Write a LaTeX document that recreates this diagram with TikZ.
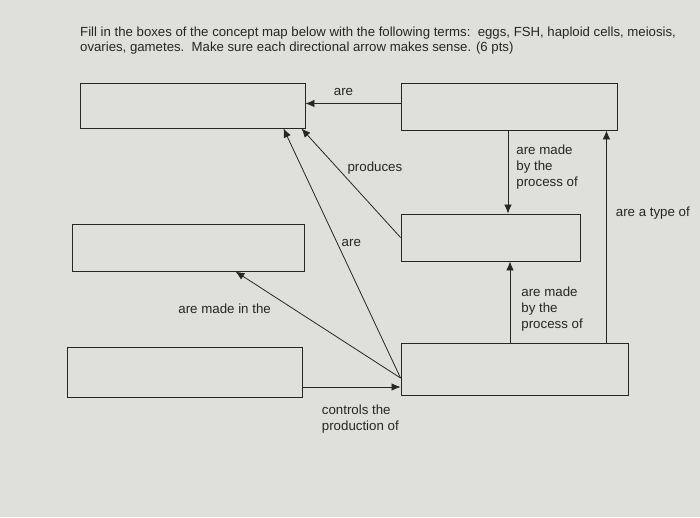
\documentclass[tikz,border=0pt]{standalone}
\usepackage{fontspec}
\setmainfont{Liberation Sans}
\usetikzlibrary{arrows.meta}
\definecolor{paper}{RGB}{223,223,220}
\definecolor{ink}{RGB}{38,38,38}
\tikzset{
  box/.style ={rectangle, draw=ink, line width=0.9pt},
  arr/.style ={-{Latex[length=9pt, width=7.5pt]}, draw=ink, line width=0.8pt},
  lbl/.style ={font=\fontsize{13.3}{16}\selectfont, text=ink, align=left, inner sep=2pt},
  prompt/.style ={font=\fontsize{13.2}{15}\selectfont, text=ink, align=left, inner sep=0pt}
}
\begin{document}
\begin{tikzpicture}[x=1pt, y=-1pt]
    \fill[paper] (0,0) rectangle (700,517);
    \useasboundingbox (0,0) rectangle (700,517);
    \node[prompt, anchor=north west] (task) at (80,27) {Fill in the boxes of the concept map below with the following terms:\ \ eggs, FSH, haploid cells, meiosis,\\ovaries, gametes.\ \ Make sure each directional arrow makes sense. (6 pts)};
    % blank boxes
    \node[box, minimum width=225pt, minimum height=45pt] (boxTL) at (192.5,105.5) {};
    \node[box, minimum width=216pt, minimum height=47pt] (boxTR) at (509,106.5) {};
    \node[box, minimum width=232pt, minimum height=47pt] (boxML) at (188,247.5) {};
    \node[box, minimum width=179pt, minimum height=47pt] (boxMR) at (490.5,237.5) {};
    \node[box, minimum width=235pt, minimum height=50pt] (boxBL) at (184.5,372) {};
    \node[box, minimum width=227pt, minimum height=52pt] (boxBR) at (514.5,369) {};
    % connectors
    \draw[arr] ([yshift=3pt]boxTR.west) -- ([yshift=3pt]boxTR.west -| boxTL.east)
        node[lbl, pos=0.6, above=5pt] {are};
    \draw[arr] (boxMR.west) -- ([xshift=-4pt]boxTL.south east)
        node[lbl, pos=0.64, right=8pt] {produces};
    \draw[arr] ([yshift=-9pt]boxBR.west) -- ([xshift=-22pt]boxTL.south east)
        node[lbl, pos=0.54, right=2pt] {are};
    \draw[arr] ([yshift=-9pt]boxBR.west) -- ([xshift=-69pt]boxML.south east)
        node[lbl, pos=0.65, left=20pt] {are made in the};
    \draw[arr] ([yshift=-15pt]boxBL.east) -- ([yshift=-15pt]boxBL.east -| boxBR.west)
        node[lbl, pos=0.59, below=15pt] {controls the\\production of};
    \draw[arr] ([xshift=-1pt]boxTR.south) -- ([xshift=-1pt]boxTR.south |- boxMR.north)
        node[lbl, pos=0.44, right=6pt] {are made\\by the\\process of};
    \draw[arr] ([xshift=19.5pt]boxMR.south |- boxBR.north) -- ([xshift=19.5pt]boxMR.south)
        node[lbl, pos=0.41, right=9pt] {are made\\by the\\process of};
    \draw[arr] ([xshift=-11pt]boxTR.south east |- boxBR.north) -- ([xshift=-11pt]boxTR.south east)
        node[lbl, pos=0.61, right=7pt] {are a type of};
\end{tikzpicture}
\end{document}
